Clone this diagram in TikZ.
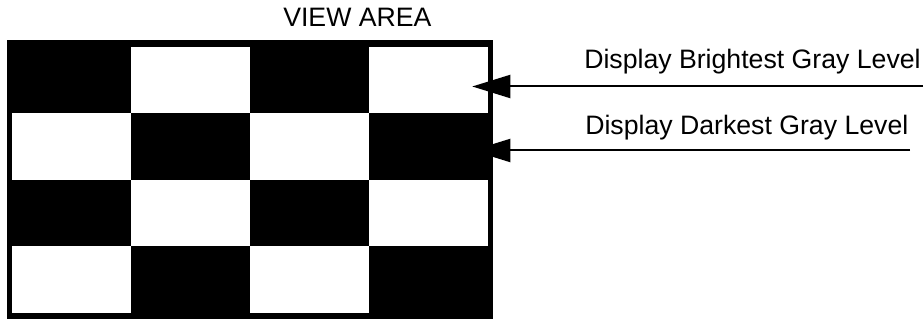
\documentclass[tikz,border=0pt]{standalone}
\usepackage{fontspec}
\setmainfont{Liberation Sans}
\usepackage{tikz}
\usetikzlibrary{calc,arrows.meta}

\begin{document}
\begin{tikzpicture}[
x=0.75pt, y=0.75pt,
Cell/.style={rectangle, fill=white, draw=none, inner sep=0pt,
minimum width=89.25pt, minimum height=49.875pt},
Label/.style={anchor=base west, inner sep=0pt, font=\fontsize{20pt}{24pt}\selectfont},
Pointer/.style={line width=1.5pt, -{Triangle[length=28.5pt, width=17.25pt]}},
]
	\useasboundingbox (0,0) rectangle (924,320);
	\node[
	rectangle, 
	fill=black, 
	inner sep=0pt, 
	minimum width=364.5pt, 
	minimum height=209.25pt,
	] (Board) 
	at (250,140.5)
	{};
	\node[Label] (ViewArea) 
	at (283,293)
	{VIEW AREA};
	% white squares, row by row
	\node[Cell] (W12) at ($ (Board) + (-59.5,99.25) $) {};
	\node[Cell] (W14) at ($ (Board) + (178.5,99.25) $) {};
	\node[Cell] (W21) at ($ (Board) + (-178.5,32.75) $) {};
	\node[Cell] (W23) at ($ (Board) + (59.5,32.75) $) {};
	\node[Cell] (W32) at ($ (Board) + (-59.5,-33.75) $) {};
	\node[Cell] (W34) at ($ (Board) + (178.5,-33.75) $) {};
	\node[Cell] (W41) at ($ (Board) + (-178.5,-100.25) $) {};
	\node[Cell] (W43) at ($ (Board) + (59.5,-100.25) $) {};

	\node[Label] (Bright) 
	at (584,251.5)
	{Display Brightest Gray Level};
	\node[Label] (Dark) 
	at (585,185)
	{Display Darkest Gray Level};
	\coordinate (BrightEnd) at (923,233.5);
	\coordinate (BrightTip) at ($ (Board.east) + (-21,93) $);
	\coordinate (DarkEnd) at (910,169.5);
	\coordinate (DarkTip) at ($ (Board.east) + (-21,29) $);
	\draw[Pointer] (BrightEnd) -- (BrightTip);
	\draw[Pointer] (DarkEnd) -- (DarkTip);
\end{tikzpicture}
\end{document}
